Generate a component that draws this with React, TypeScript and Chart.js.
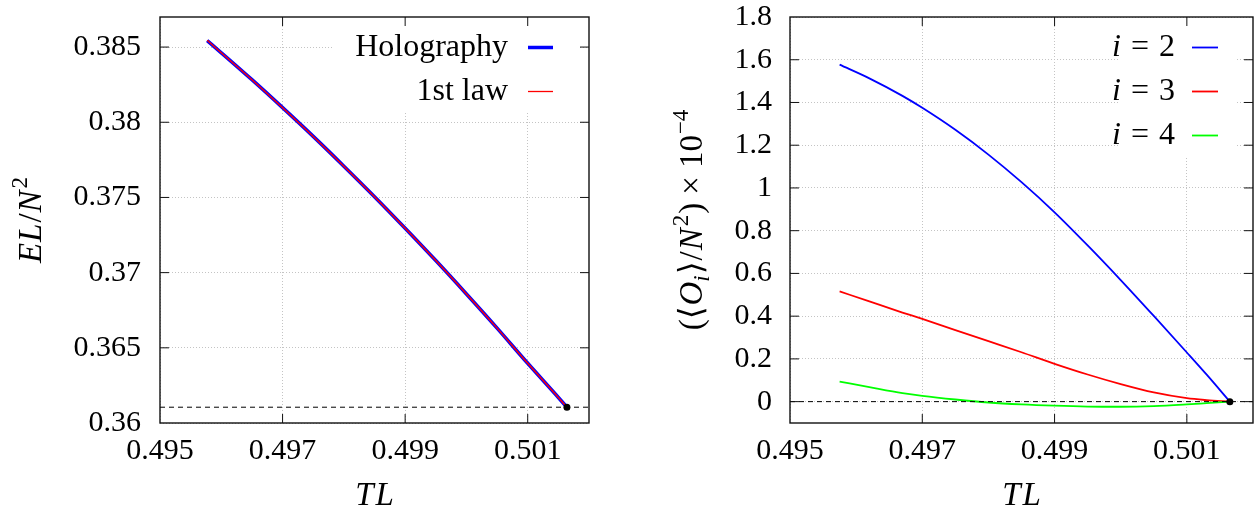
import React, { useEffect, useRef } from "react";
import { Chart, registerables } from "chart.js";

Chart.register(...registerables);

const FONT = '"Liberation Serif", "DejaVu Serif", serif';

// ---------- shared x axis ----------
const xMin = 0.495;
const xMax = 0.502;
const xTicks = [0.495, 0.497, 0.499, 0.501];
const xTickLabels = ["0.495", "0.497", "0.499", "0.501"];

// ---------- left panel: energy ----------
const energyMin = 0.36;
const energyMax = 0.387;
const energyTicks = [0.36, 0.365, 0.37, 0.375, 0.38, 0.385];
const energyTickLabels = ["0.36", "0.365", "0.37", "0.375", "0.38", "0.385"];

const tlEnergy = [0.49577, 0.496, 0.4965, 0.497, 0.4975, 0.498, 0.4985, 0.499, 0.4995, 0.5, 0.5005, 0.501, 0.5015, 0.50164];
const holographyEL = [0.38543, 0.38462, 0.38283, 0.38097, 0.37906, 0.37708, 0.37505, 0.37295, 0.3708, 0.36858, 0.36631, 0.36397, 0.3617, 0.36105];
const firstLawEL = [0.38545, 0.38462, 0.38283, 0.38097, 0.37906, 0.37708, 0.37505, 0.37295, 0.3708, 0.36858, 0.36631, 0.36397, 0.3617, 0.36105];
const energyDashLevel = 0.36105;

// ---------- right panel: condensates ----------
const condMin = -0.1;
const condMax = 1.8;
const condTicks = [0, 0.2, 0.4, 0.6, 0.8, 1, 1.2, 1.4, 1.6, 1.8];
const condTickLabels = ["0", "0.2", "0.4", "0.6", "0.8", "1", "1.2", "1.4", "1.6", "1.8"];

const tlCond = [0.49575, 0.4962, 0.4967, 0.497, 0.4975, 0.498, 0.4985, 0.499, 0.4995, 0.5, 0.5005, 0.501, 0.5013, 0.50165];
const condI2 = [1.577, 1.513, 1.431, 1.375, 1.272, 1.156, 1.027, 0.886, 0.731, 0.569, 0.401, 0.23, 0.126, 0];
const condI3 = [0.516, 0.469, 0.417, 0.387, 0.335, 0.283, 0.231, 0.177, 0.127, 0.082, 0.043, 0.016, 0.007, 0];
const condI4 = [0.094, 0.068, 0.04, 0.027, 0.01, -0.004, -0.013, -0.019, -0.023, -0.024, -0.021, -0.013, -0.007, 0];
const condDashLevel = 0;

// ---------- rich text helpers ----------
type Seg = { t: string; it?: boolean; sup?: boolean; sub?: boolean; pre?: number };

function fontOf(s: Seg, size: number) {
  const sz = s.sup || s.sub ? Math.round(size * 0.7) : size;
  return `${s.it ? "italic " : ""}${sz}px ${FONT}`;
}
function richWidth(ctx: CanvasRenderingContext2D, segs: Seg[], size: number) {
  let w = 0;
  for (const s of segs) {
    ctx.font = fontOf(s, size);
    w += (s.pre || 0) + ctx.measureText(s.t).width;
  }
  return w;
}
function drawRich(ctx: CanvasRenderingContext2D, segs: Seg[], x: number, y: number, size: number) {
  let cx = x;
  ctx.textAlign = "left";
  ctx.textBaseline = "alphabetic";
  ctx.fillStyle = "#000";
  for (const s of segs) {
    ctx.font = fontOf(s, size);
    cx += s.pre || 0;
    const dy = s.sup ? -size * 0.42 : s.sub ? size * 0.2 : 0;
    ctx.fillText(s.t, cx, y + dy);
    cx += ctx.measureText(s.t).width;
  }
}

type LegendItem = { segs: Seg[]; color: string; width: number };
type PanelDecor = {
  legend: LegendItem[];
  legendTextRight: number;
  sampleStart: number;
  sampleEnd: number;
  legendY0: number;
  legendStep: number;
  box: [number, number, number, number];
  yTitle: Seg[];
  yTitleBaselineX: number;
  xTitle: Seg[];
  xTitleBaselineY: number;
  legendSize: number;
  titleSize: number;
};

function makeDecorPlugin(cfg: PanelDecor) {
  return {
    id: "decor",
    afterDatasetsDraw(chart: any) {
      const ctx: CanvasRenderingContext2D = chart.ctx;
      ctx.save();
      const [bx0, by0, bx1, by1] = cfg.box;
      ctx.fillStyle = "#fff";
      ctx.fillRect(bx0, by0, bx1 - bx0, by1 - by0);
      cfg.legend.forEach((it, i) => {
        const y = cfg.legendY0 + i * cfg.legendStep;
        const w = richWidth(ctx, it.segs, cfg.legendSize);
        drawRich(ctx, it.segs, cfg.legendTextRight - w, y + 8, cfg.legendSize);
        ctx.strokeStyle = it.color;
        ctx.lineWidth = it.width;
        ctx.setLineDash([]);
        ctx.beginPath();
        ctx.moveTo(cfg.sampleStart, y);
        ctx.lineTo(cfg.sampleEnd, y);
        ctx.stroke();
      });
      ctx.restore();
    },
    afterDraw(chart: any) {
      const ctx: CanvasRenderingContext2D = chart.ctx;
      const a = chart.chartArea;
      const xs = chart.scales.x;
      const ys = chart.scales.y;
      ctx.save();
      ctx.setLineDash([]);
      ctx.strokeStyle = "#111";
      ctx.lineWidth = 1.4;
      ctx.strokeRect(a.left, a.top, a.right - a.left, a.bottom - a.top);
      ctx.lineWidth = 1;
      const tl = 9;
      ctx.beginPath();
      for (const t of xs.ticks) {
        const p = xs.getPixelForValue(t.value);
        if (p <= a.left + 1 || p >= a.right - 1) continue;
        ctx.moveTo(p, a.bottom);
        ctx.lineTo(p, a.bottom - tl);
        ctx.moveTo(p, a.top);
        ctx.lineTo(p, a.top + tl);
      }
      for (const t of ys.ticks) {
        const p = ys.getPixelForValue(t.value);
        if (p <= a.top + 1 || p >= a.bottom - 1) continue;
        ctx.moveTo(a.left, p);
        ctx.lineTo(a.left + tl, p);
        ctx.moveTo(a.right, p);
        ctx.lineTo(a.right - tl, p);
      }
      ctx.stroke();
      // axis titles
      const xw = richWidth(ctx, cfg.xTitle, cfg.titleSize);
      drawRich(ctx, cfg.xTitle, (a.left + a.right) / 2 - xw / 2, cfg.xTitleBaselineY, cfg.titleSize);
      const yw = richWidth(ctx, cfg.yTitle, cfg.titleSize);
      ctx.translate(cfg.yTitleBaselineX, (a.top + a.bottom) / 2);
      ctx.rotate(-Math.PI / 2);
      drawRich(ctx, cfg.yTitle, -yw / 2, 0, cfg.titleSize);
      ctx.restore();
    },
  };
}

function pts(xs: number[], ys: number[]) {
  return xs.map((x, i) => ({ x, y: ys[i] }));
}

function axisCommon(ticksArr: number[], labels: string[], min: number, max: number, fit: (s: any) => void, padding: number) {
  return {
    type: "linear" as const,
    min,
    max,
    afterBuildTicks: (s: any) => {
      s.ticks = ticksArr.map((v) => ({ value: v }));
    },
    afterFit: fit,
    ticks: {
      callback: (_v: any, i: number) => labels[i],
      font: { family: FONT, size: 30 },
      color: "#000",
      padding,
      maxRotation: 0,
      autoSkip: false,
    },
    grid: { color: "#c4c4c4", lineWidth: 1, drawTicks: false },
    border: { display: false, dash: [1, 2] },
  };
}

function fitY(w: number) {
  return (s: any) => {
    s.width = w;
    s.paddingTop = 0;
    s.paddingBottom = 0;
  };
}
function fitX(s: any) {
  s.height = 91;
  s.paddingLeft = 0;
  s.paddingRight = 0;
}

function buildOptions(padRight: number, yAxis: any) {
  return {
    animation: false as const,
    responsive: false,
    maintainAspectRatio: false,
    devicePixelRatio: 1,
    layout: { padding: { top: 17, right: padRight, left: 0, bottom: 0 } },
    plugins: { legend: { display: false }, tooltip: { enabled: false } },
    elements: { point: { radius: 0 } },
    scales: {
      x: axisCommon(xTicks, xTickLabels, xMin, xMax, fitX, 10),
      y: yAxis,
    },
  };
}

function lineDs(label: string, data: any[], color: string, width: number, order: number) {
  return {
    label,
    data,
    borderColor: color,
    backgroundColor: color,
    borderWidth: width,
    pointRadius: 0,
    fill: false,
    cubicInterpolationMode: "monotone" as const,
    order,
  };
}
function dashDs(level: number, order: number) {
  return {
    label: "ref",
    data: [{ x: xMin, y: level }, { x: xMax, y: level }],
    borderColor: "#000",
    borderWidth: 1,
    borderDash: [5, 4],
    pointRadius: 0,
    fill: false,
    order,
  };
}
function dotDs(x: number, y: number) {
  return {
    label: "end",
    data: [{ x, y }],
    showLine: false,
    pointRadius: 3.5,
    pointBackgroundColor: "#000",
    pointBorderColor: "#000",
    borderWidth: 0,
    order: 0,
  };
}

export default function App() {
  const leftRef = useRef<HTMLCanvasElement>(null);
  const rightRef = useRef<HTMLCanvasElement>(null);

  useEffect(() => {
    const last = tlEnergy.length - 1;
    const left = new Chart(leftRef.current as HTMLCanvasElement, {
      type: "line",
      data: {
        datasets: [
          dotDs(tlEnergy[last], holographyEL[last]),
          lineDs("1st law", pts(tlEnergy, firstLawEL), "#ff0000", 1.4, 1),
          lineDs("Holography", pts(tlEnergy, holographyEL), "#0000ff", 3.6, 2),
          dashDs(energyDashLevel, 3),
        ] as any,
      },
      options: buildOptions(31, axisCommon(energyTicks, energyTickLabels, energyMin, energyMax, fitY(160), 19)) as any,
      plugins: [
        makeDecorPlugin({
          legend: [
            { segs: [{ t: "Holography" }], color: "#0000ff", width: 3.5 },
            { segs: [{ t: "1st law" }], color: "#ff0000", width: 1.3 },
          ],
          legendTextRight: 508,
          sampleStart: 528,
          sampleEnd: 553,
          legendY0: 47.5,
          legendStep: 44,
          box: [333, 18, 580, 113],
          yTitle: [{ t: "E", it: true }, { t: "L", it: true, pre: 1 }, { t: "/", pre: 1 }, { t: "N", it: true, pre: 1 }, { t: "2", sup: true, pre: 2 }],
          yTitleBaselineX: 41,
          xTitle: [{ t: "T", it: true }, { t: "L", it: true, pre: 2 }],
          xTitleBaselineY: 505,
          legendSize: 32,
          titleSize: 33,
        }),
      ],
    });

    const lastC = tlCond.length - 1;
    const right = new Chart(rightRef.current as HTMLCanvasElement, {
      type: "line",
      data: {
        datasets: [
          dotDs(tlCond[lastC], condI2[lastC]),
          dashDs(condDashLevel, 1),
          lineDs("i = 4", pts(tlCond, condI4), "#00ff00", 1.8, 2),
          lineDs("i = 3", pts(tlCond, condI3), "#ff0000", 1.8, 3),
          lineDs("i = 2", pts(tlCond, condI2), "#0000ff", 1.8, 4),
        ] as any,
      },
      options: buildOptions(4, axisCommon(condTicks, condTickLabels, condMin, condMax, fitY(170), 18)) as any,
      plugins: [
        makeDecorPlugin({
          legend: [
            { segs: [{ t: "i", it: true }, { t: "=", pre: 10 }, { t: "2", pre: 10 }], color: "#0000ff", width: 1.8 },
            { segs: [{ t: "i", it: true }, { t: "=", pre: 10 }, { t: "3", pre: 10 }], color: "#ff0000", width: 1.8 },
            { segs: [{ t: "i", it: true }, { t: "=", pre: 10 }, { t: "4", pre: 10 }], color: "#00ff00", width: 1.8 },
          ],
          legendTextRight: 555,
          sampleStart: 572,
          sampleEnd: 598,
          legendY0: 47.5,
          legendStep: 44,
          box: [500, 18, 617, 157],
          yTitle: [
            { t: "(\u27E8" },
            { t: "O", it: true, pre: 1 },
            { t: "i", it: true, sub: true },
            { t: "\u27E9", pre: 1 },
            { t: "/", pre: 1 },
            { t: "N", it: true, pre: 1 },
            { t: "2", sup: true, pre: 2 },
            { t: ")", pre: 1 },
            { t: "\u00D7", pre: 8 },
            { t: "10", pre: 8 },
            { t: "\u22124", sup: true, pre: 1 },
          ],
          yTitleBaselineX: 82,
          xTitle: [{ t: "T", it: true }, { t: "L", it: true, pre: 2 }],
          xTitleBaselineY: 505,
          legendSize: 32,
          titleSize: 33,
        }),
      ],
    });

    return () => {
      left.destroy();
      right.destroy();
    };
  }, []);

  return (
    <div style={{ position: "absolute", left: 0, top: 0, width: 1257, height: 514, background: "#fff" }}>
      <canvas ref={leftRef} width={620} height={514} style={{ position: "absolute", left: 0, top: 0, width: 620, height: 514 }} />
      <canvas ref={rightRef} width={637} height={514} style={{ position: "absolute", left: 620, top: 0, width: 637, height: 514 }} />
    </div>
  );
}
